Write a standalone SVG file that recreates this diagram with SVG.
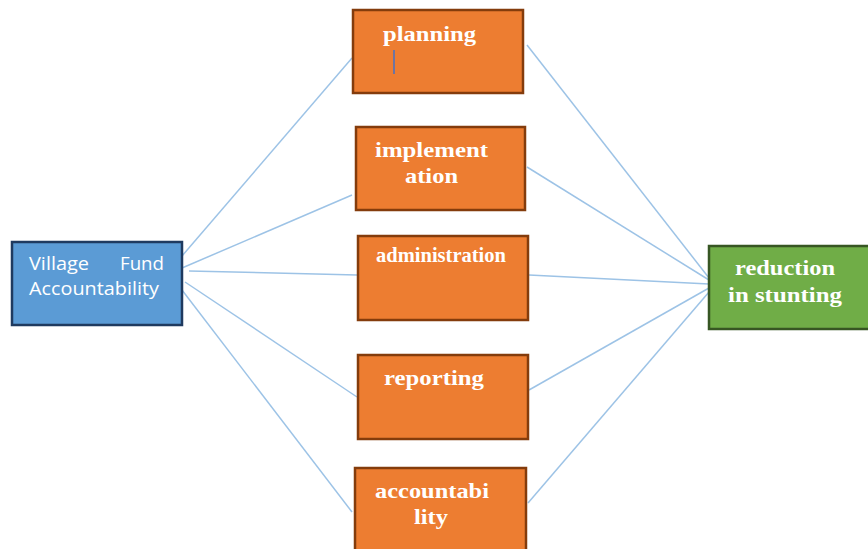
<svg xmlns="http://www.w3.org/2000/svg" width="868" height="549" viewBox="0 0 868 549">
<style>
.o{fill:#ED7D31;stroke:#843C0C;stroke-width:2.5}
.b{fill:#5B9BD5;stroke:#1F3A5F;stroke-width:2.5}
.g{fill:#70AD47;stroke:#375623;stroke-width:2.5}
.c line{stroke:#9DC3E6;stroke-width:1.5}
.t{font-family:"Liberation Serif",serif;font-weight:bold;font-size:22px;fill:#FFFFFF}
.s{font-family:"Open Sans","Liberation Sans",sans-serif;font-size:18px;fill:#FFFFFF}
</style>
<rect width="868" height="549" fill="#FFFFFF"/>
<g class="c" id="connectors">
<line x1="182" y1="256" x2="352" y2="58"/>
<line x1="182" y1="268" x2="352" y2="195"/>
<line x1="189" y1="271" x2="357" y2="275"/>
<line x1="185" y1="282" x2="357" y2="397"/>
<line x1="182" y1="290" x2="352" y2="512"/>
<line x1="527" y1="45" x2="709" y2="278"/>
<line x1="527" y1="167" x2="709" y2="280"/>
<line x1="529" y1="275" x2="709" y2="284"/>
<line x1="529" y1="390" x2="709" y2="288"/>
<line x1="528" y1="503" x2="709" y2="292"/>
</g>
<g id="village-fund">
<rect class="b" x="12" y="242" width="170" height="83"/>
<text class="s" x="29" y="270" textLength="60" lengthAdjust="spacingAndGlyphs">Village</text>
<text class="s" x="120" y="270" textLength="44" lengthAdjust="spacingAndGlyphs">Fund</text>
<text class="s" x="29" y="295" textLength="130" lengthAdjust="spacingAndGlyphs">Accountability</text>
</g>
<g id="planning">
<rect class="o" x="353" y="10" width="170" height="83"/>
<text class="t" x="383" y="41" textLength="93" lengthAdjust="spacingAndGlyphs">planning</text>
<line x1="394" y1="50" x2="394" y2="74" stroke="#4472C4" stroke-width="1.5"/>
</g>
<g id="implementation">
<rect class="o" x="356" y="127" width="169" height="83"/>
<text class="t" x="375" y="157" textLength="113" lengthAdjust="spacingAndGlyphs">implement</text>
<text class="t" x="405" y="183" textLength="53" lengthAdjust="spacingAndGlyphs">ation</text>
</g>
<g id="administration">
<rect class="o" x="358" y="236" width="170" height="84"/>
<text class="t" x="376" y="262" font-size="19" textLength="130" lengthAdjust="spacingAndGlyphs">administration</text>
</g>
<g id="reporting">
<rect class="o" x="358" y="355" width="170" height="84"/>
<text class="t" x="384" y="385" textLength="100" lengthAdjust="spacingAndGlyphs">reporting</text>
</g>
<g id="accountability">
<rect class="o" x="355" y="468" width="171" height="90"/>
<text class="t" x="375" y="498" textLength="114" lengthAdjust="spacingAndGlyphs">accountabi</text>
<text class="t" x="414" y="524" textLength="34" lengthAdjust="spacingAndGlyphs">lity</text>
</g>
<g id="reduction">
<rect class="g" x="709" y="246" width="170" height="83"/>
<text class="t" x="735" y="275" textLength="100" lengthAdjust="spacingAndGlyphs">reduction</text>
<text class="t" x="728" y="302" textLength="114" lengthAdjust="spacingAndGlyphs">in stunting</text>
</g>
</svg>
